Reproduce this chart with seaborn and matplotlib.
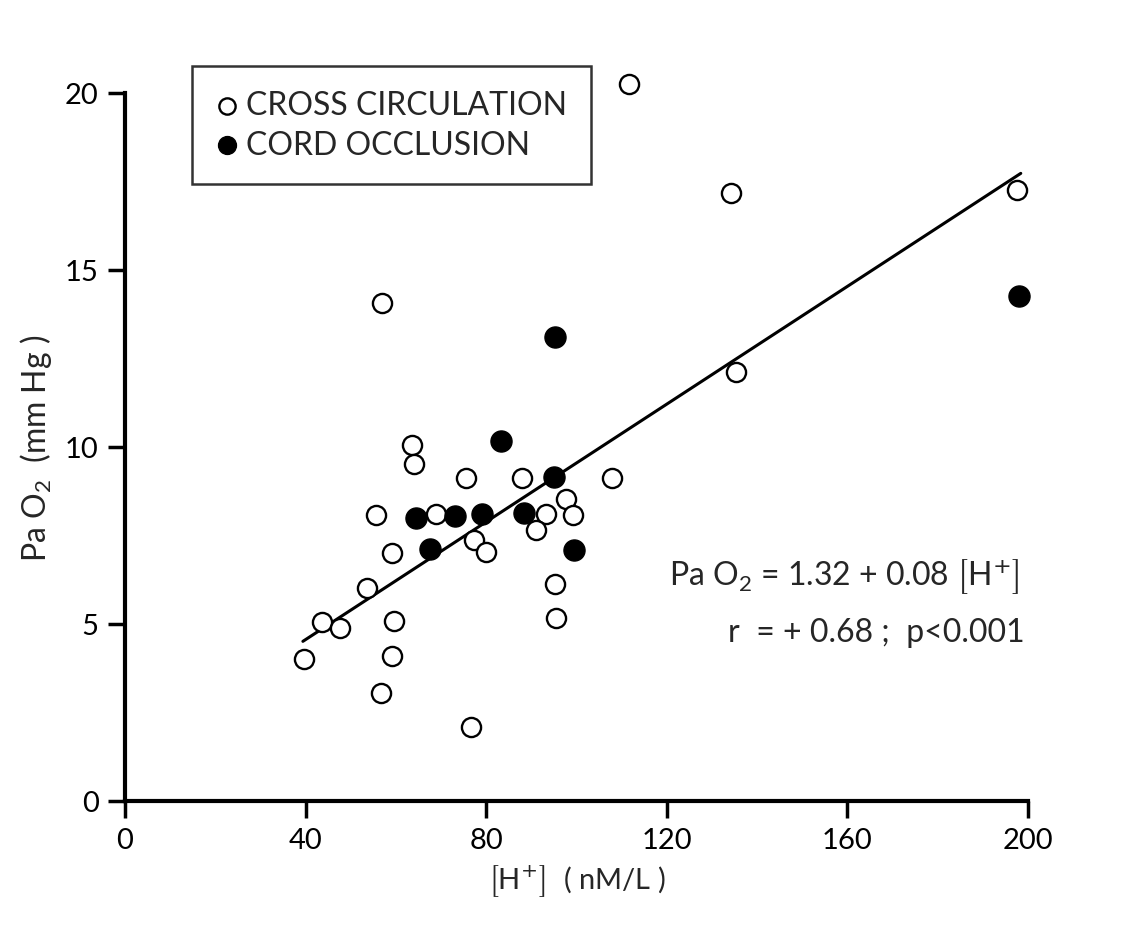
import matplotlib
matplotlib.use("Agg")
import matplotlib.pyplot as plt
import seaborn as sns
import pandas as pd

# ---- data ----
cross_h = [57.0, 63.6, 64.1, 75.5, 87.9, 107.8, 55.5, 68.8, 97.6, 99.3, 93.2, 91.0,
           77.2, 80.0, 59.2, 53.7, 95.2, 43.6, 47.6, 59.6, 95.5, 39.6, 59.1, 56.7,
           76.6, 111.6, 134.2, 135.3, 197.6]
cross_pao2 = [14.07, 10.07, 9.52, 9.12, 9.12, 9.12, 8.09, 8.1, 8.53, 8.08, 8.1, 7.66,
              7.37, 7.04, 7.0, 6.02, 6.13, 5.05, 4.9, 5.08, 5.17, 4.01, 4.1, 3.04,
              2.1, 20.25, 17.18, 12.12, 17.26]
cord_h = [95.2, 83.3, 95.1, 64.4, 73.2, 79.1, 88.4, 67.6, 99.5, 198.0]
cord_pao2 = [13.1, 10.16, 9.16, 7.99, 8.06, 8.1, 8.13, 7.12, 7.09, 14.27]
fit_h = [39.4, 198.4]
fit_pao2 = [4.51, 17.73]
x_ticks = [0, 40, 80, 120, 160, 200]
y_ticks = [0, 5, 10, 15, 20]
series_labels = ["CROSS CIRCULATION", "CORD OCCLUSION"]

sns.set_style("white")
plt.rcParams['font.family'] = ['Lato', 'DejaVu Sans']
plt.rcParams['mathtext.fontset'] = 'dejavusans'

fig = plt.figure(figsize=(11.27, 9.37), dpi=100)
ax = fig.add_axes([125/1127, 1-802/937, 903/1127, 708/937])

df_cross = pd.DataFrame({"h": cross_h, "pao2": cross_pao2})
df_cord = pd.DataFrame({"h": cord_h, "pao2": cord_pao2})
df_fit = pd.DataFrame({"h": fit_h, "pao2": fit_pao2})

sns.lineplot(data=df_fit, x="h", y="pao2", ax=ax, color="black", linewidth=2.2,
             legend=False)
sns.scatterplot(data=df_cross, x="h", y="pao2", ax=ax, s=190, color="white",
                edgecolor="black", linewidth=1.7, label=series_labels[0],
                clip_on=False, zorder=3)
sns.scatterplot(data=df_cord, x="h", y="pao2", ax=ax, s=230, color="black",
                edgecolor="black", linewidth=1.0, label=series_labels[1],
                clip_on=False, zorder=3)

ax.set_xlim(0, 200)
ax.set_ylim(0, 20)
ax.set_xticks(x_ticks)
ax.set_yticks(y_ticks)
for s in ["top", "right"]:
    ax.spines[s].set_visible(False)
for s in ["left", "bottom"]:
    ax.spines[s].set_linewidth(3)
    ax.spines[s].set_color("black")
ax.tick_params(axis="both", direction="out", length=12, width=2.5, colors="black",
               labelsize=21, pad=7, bottom=True, left=True)

bracket = r"$\left[\mathregular{H}^{+}_{\,}\right]$"
ax.set_xlabel(bracket + "  ( nM/L )", fontsize=21, labelpad=6)
ax.set_ylabel(r"Pa O$_\mathregular{2}$  (mm Hg )", fontsize=23, labelpad=8)

ax.text(0.602, 0.318,
        r"Pa O$_\mathregular{2}$ = 1.32 + 0.08 " + bracket,
        transform=ax.transAxes, fontsize=23, ha="left", va="center")
ax.text(0.668, 0.238, "r  = + 0.68 ;  p<0.001",
        transform=ax.transAxes, fontsize=23, ha="left", va="center")

leg = ax.legend(loc="upper left", bbox_to_anchor=(0.074, 1.038), borderaxespad=0,
                fontsize=23, frameon=True, fancybox=False, handletextpad=0.25,
                borderpad=0.75, labelspacing=0.3, handlelength=0.7, markerscale=0.85)
leg.get_frame().set_edgecolor("black")
leg.get_frame().set_linewidth(1.8)

fig.savefig("out.png", dpi=100, facecolor="white")
